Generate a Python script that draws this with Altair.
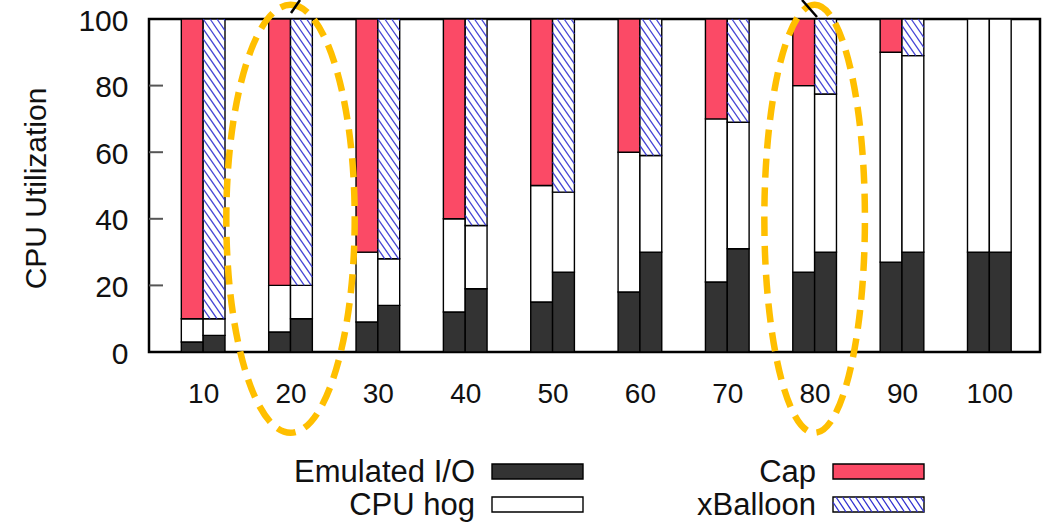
import altair as alt
import pandas as pd
import numpy as np

# ---------------- data ----------------
groups = [10, 20, 30, 40, 50, 60, 70, 80, 90, 100]
cap_io = [3, 6, 9, 12, 15, 18, 21, 24, 27, 30]          # Emulated I/O (Cap bar)
cap_hog_top = [10, 20, 30, 40, 50, 60, 70, 80, 90, 100]  # top of CPU hog (Cap bar)
xb_io = [5, 10, 14, 19, 24, 30, 31, 30, 30, 30]          # Emulated I/O (xBalloon bar)
xb_hog_top = [10, 20, 28, 38, 48, 59, 69, 77.5, 89, 100] # top of CPU hog (xBalloon bar)
y_ticks = [0, 20, 40, 60, 80, 100]
components = ["Emulated I/O", "CPU hog", "Cap", "xBalloon"]
comp_colors = ["#333333", "#ffffff", "#fb4a66", "#ffffff"]
highlight = [20, 80]

FONT = "Liberation Sans"
W, H = 891, 333
BAR = 2.5          # bar width in x units
XDOM = [3.8, 105.8]

# ---------------- bar segments ----------------
rows = []
for i, g in enumerate(groups):
    segs_cap = [("Emulated I/O", 0, cap_io[i]), ("CPU hog", cap_io[i], cap_hog_top[i]),
                ("Cap", cap_hog_top[i], 100)]
    segs_xb = [("Emulated I/O", 0, xb_io[i]), ("CPU hog", xb_io[i], xb_hog_top[i]),
               ("xBalloon", xb_hog_top[i], 100)]
    for comp, a, b in segs_cap:
        if b > a:
            rows.append(dict(g=g, x0=g - BAR, x1=g, comp=comp, y0=a, y1=b))
    for comp, a, b in segs_xb:
        if b > a:
            rows.append(dict(g=g, x0=g, x1=g + BAR, comp=comp, y0=a, y1=b))
bars_df = pd.DataFrame(rows)

# hatch lines for xBalloon segments (derived from the segments above)
D = 9.5     # vertical drop across a bar, y units
S = 3.0     # spacing, y units
hatch = []
for r in rows:
    if r["comp"] != "xBalloon":
        continue
    b, t, xl, xr = r["y0"], r["y1"], r["x0"], r["x1"]
    c = b
    while c < t + D:
        u0 = max(0.0, (c - t) / D)
        u1 = min(1.0, (c - b) / D)
        if u1 - u0 > 1e-6:
            hatch.append(dict(x=xl + u0 * (xr - xl), y=c - D * u0,
                              x2=xl + u1 * (xr - xl), y2=c - D * u1))
        c += S
hatch_df = pd.DataFrame(hatch)

xs = alt.Scale(domain=XDOM, nice=False, zero=False)
ys = alt.Scale(domain=[0, 100], nice=False)

bars = alt.Chart(bars_df).mark_bar(stroke="black", strokeWidth=1.4).encode(
    x=alt.X("x0:Q", scale=xs,
            axis=alt.Axis(values=groups, title=None, ticks=False, domain=False, grid=False,
                          labelFontSize=28, labelPadding=28, labelFont=FONT,
                          labelColor="#111")),
    x2="x1:Q",
    y=alt.Y("y0:Q", scale=ys,
            axis=alt.Axis(values=y_ticks, ticks=False, domain=False, grid=False,
                          labelFontSize=30, labelPadding=21, labelFont=FONT, labelColor="#111",
                          labelOffset=2,
                          title="CPU Utilization", titleFont=FONT, titleFontSize=30,
                          titleFontWeight="normal", titleColor="#111",
                          titleX=-113, titleY=169, titleAngle=270,
                          titleAlign="center", titleBaseline="middle")),
    y2="y1:Q",
    fill=alt.Fill("comp:N", scale=alt.Scale(domain=components, range=comp_colors), legend=None),
)

hatch_layer = alt.Chart(hatch_df).mark_rule(color="#3030d0", strokeWidth=1.3, opacity=0.9).encode(
    x=alt.X("x:Q", scale=xs), x2="x2:Q",
    y=alt.Y("y:Q", scale=ys), y2="y2:Q",
)

ticks_layer = alt.Chart(pd.DataFrame({"v": y_ticks[1:-1]})).mark_rule(
    color="#555555", strokeWidth=2).encode(
    y=alt.Y("v:Q", scale=ys), x=alt.value(0), x2=alt.value(14))

# ---------------- highlight ellipses ----------------
def ellipse_path(rx):
    k = 0.5523
    return (f"M 0 -1 C {k*rx:.4f} -1 {rx:.4f} {-k:.4f} {rx:.4f} 0 "
            f"C {rx:.4f} {k:.4f} {k*rx:.4f} 1 0 1 "
            f"C {-k*rx:.4f} 1 {-rx:.4f} {k:.4f} {-rx:.4f} 0 "
            f"C {-rx:.4f} {-k:.4f} {-k*rx:.4f} -1 0 -1 Z")

ell_layers = []
for g, rx in zip(highlight, [0.30, 0.235]):
    ell_layers.append(
        alt.Chart(pd.DataFrame({"g": [g], "yc": [40]})).mark_point(
            shape=ellipse_path(rx), filled=False, stroke="#ffbf00", strokeWidth=6.5,
            strokeDash=[19, 10], size=428 * 428, opacity=1).encode(
            x=alt.X("g:Q", scale=xs), y=alt.Y("yc:Q", scale=ys))
    )

arrow_df = pd.DataFrame({"x": [151, 653], "y": [-19, -19], "x2": [142, 668], "y2": [-6, -2]})
arrows = alt.Chart(arrow_df).mark_rule(color="black", strokeWidth=2.5).encode(
    x=alt.X("x:Q", scale=None), x2="x2:Q", y=alt.Y("y:Q", scale=None), y2="y2:Q")

# ---------------- legend (two columns, label left of swatch) ----------------
text_right = [326, 667]
row_top = [445, 478]
SW_GAP, SW_W, SW_H = 17, 91, 15
leg = []
for idx, name in enumerate(components):
    col, row = (0, idx) if idx < 2 else (1, idx - 2)
    x0 = text_right[col] + SW_GAP
    leg.append(dict(name=name, tx=text_right[col], ty=row_top[row] + SW_H + 3,
                    x0=x0, x1=x0 + SW_W, y0=row_top[row], y1=row_top[row] + SW_H))
leg_df = pd.DataFrame(leg)

leg_text = alt.Chart(leg_df).mark_text(align="right", baseline="alphabetic", font=FONT,
                                       fontSize=31, color="#111").encode(
    x=alt.X("tx:Q", scale=None), y=alt.Y("ty:Q", scale=None), text="name:N")
leg_rect = alt.Chart(leg_df).mark_rect(stroke="black", strokeWidth=1.4).encode(
    x=alt.X("x0:Q", scale=None), x2="x1:Q", y=alt.Y("y0:Q", scale=None), y2="y1:Q",
    fill=alt.Fill("name:N", scale=alt.Scale(domain=components, range=comp_colors), legend=None))

lh = []
sw = leg_df[leg_df.name == "xBalloon"].iloc[0]
dx_drop = 10.0
c = sw.x0 - dx_drop
while c < sw.x1:
    u0 = max(0.0, (sw.x0 - c) / dx_drop)
    u1 = min(1.0, (sw.x1 - c) / dx_drop)
    if u1 - u0 > 1e-6:
        lh.append(dict(x=c + dx_drop * u0, y=sw.y0 + (sw.y1 - sw.y0) * u0,
                       x2=c + dx_drop * u1, y2=sw.y0 + (sw.y1 - sw.y0) * u1))
    c += 6.5
leg_hatch = alt.Chart(pd.DataFrame(lh)).mark_rule(color="#3030d0", strokeWidth=1.3).encode(
    x=alt.X("x:Q", scale=None), x2="x2:Q", y=alt.Y("y:Q", scale=None), y2="y2:Q")

chart = alt.layer(bars, hatch_layer, ticks_layer, *ell_layers, arrows,
                  leg_rect, leg_hatch, leg_text).properties(
    width=W, height=H,
    autosize=alt.AutoSizeParams(type="none"),
    padding={"left": 149, "top": 19, "right": 14, "bottom": 170},
).configure_view(stroke="black", strokeWidth=2.5)

chart.save("out.html", embed_options={"renderer": "svg", "actions": False})
